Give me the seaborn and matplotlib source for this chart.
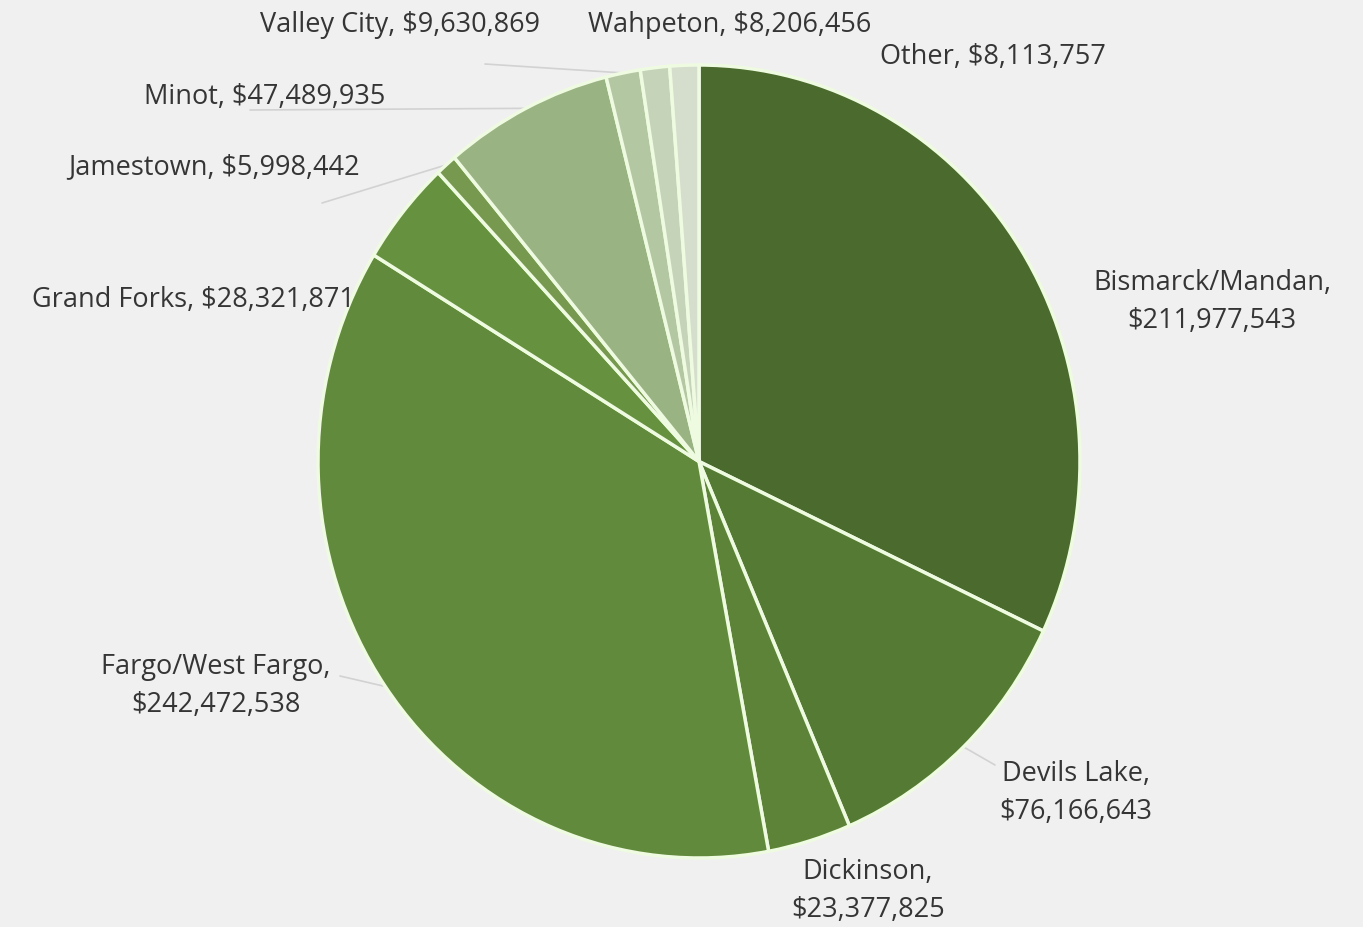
import numpy as np
import matplotlib.pyplot as plt
import seaborn as sns

sns.set_theme(style="white")
plt.rcParams['font.family'] = ['Open Sans', 'DejaVu Sans']

# data, clockwise from 12 o'clock
cidades = ['Bismarck/Mandan', 'Devils Lake', 'Dickinson', 'Fargo/West Fargo',
           'Grand Forks', 'Jamestown', 'Minot', 'Valley City', 'Wahpeton', 'Other']
valores = [211977543, 76166643, 23377825, 242472538, 28321871,
           5998442, 47489935, 9630869, 8206456, 8113757]
quebra = [True, True, True, True, False, False, False, False, False, False]

cores = ['#4b6a2e', '#557a33', '#5c8337', '#628a3c', '#66913f',
         '#77984f', '#9ab383', '#b4c7a3', '#c5d3b9', '#d5ddcc']

# label anchor (pixel x, pixel y, ha) and leader end (pixel)
pos_rotulo = [(1212, 302, 'center'), (1076, 793, 'center'), (868, 891, 'center'),
              (216, 686, 'center'), (355, 300, 'right'), (360, 167, 'right'),
              (385, 97, 'right'), (540, 25, 'right'), (588, 25, 'left'),
              (880, 57, 'left')]
fim_linha = [None, (995, 765), None, (340, 676), None, (322, 203),
             (250, 110), (485, 64), None, None]

W, H = 1363, 927
fig = plt.figure(figsize=(W / 100, H / 100), dpi=100)
fig.patch.set_facecolor('#f0f0f0')

# pie box in pixels
x0, x1, y0, y1 = 318, 1080, 65, 858
ax = fig.add_axes([x0 / W, (H - y1) / H, (x1 - x0) / W, (y1 - y0) / H])
ax.set_facecolor('none')

wedges, _ = ax.pie(valores, colors=cores, startangle=90, counterclock=False,
                   radius=1, wedgeprops=dict(edgecolor='#eefbe0', linewidth=2.5))
ax.set_aspect('auto')
ax.set_xlim(-1, 1)
ax.set_ylim(-1, 1)
ax.axis('off')


def px_to_data(px, py):
    return ((px - x0) / (x1 - x0) * 2 - 1, 1 - (py - y0) / (y1 - y0) * 2)


for w, nome, v, q, (px, py, ha), fl in zip(wedges, cidades, valores, quebra,
                                         pos_rotulo, fim_linha):
    sep = ',\n' if q else ', '
    texto = f'{nome}{sep}${v:,}'
    tx, ty = px_to_data(px, py)
    ax.text(tx, ty, texto, ha=ha, va='center', fontsize=19.5, color='#353535',
            linespacing=1.5, clip_on=False)
    if fl is not None:
        ang = np.deg2rad((w.theta1 + w.theta2) / 2)
        ex, ey = np.cos(ang), np.sin(ang)
        lx, ly = px_to_data(*fl)
        ax.plot([ex, lx], [ey, ly], color='#d2d2d2', linewidth=1.2,
                clip_on=False, zorder=0)

fig.savefig('out.png', dpi=100, facecolor=fig.get_facecolor())
